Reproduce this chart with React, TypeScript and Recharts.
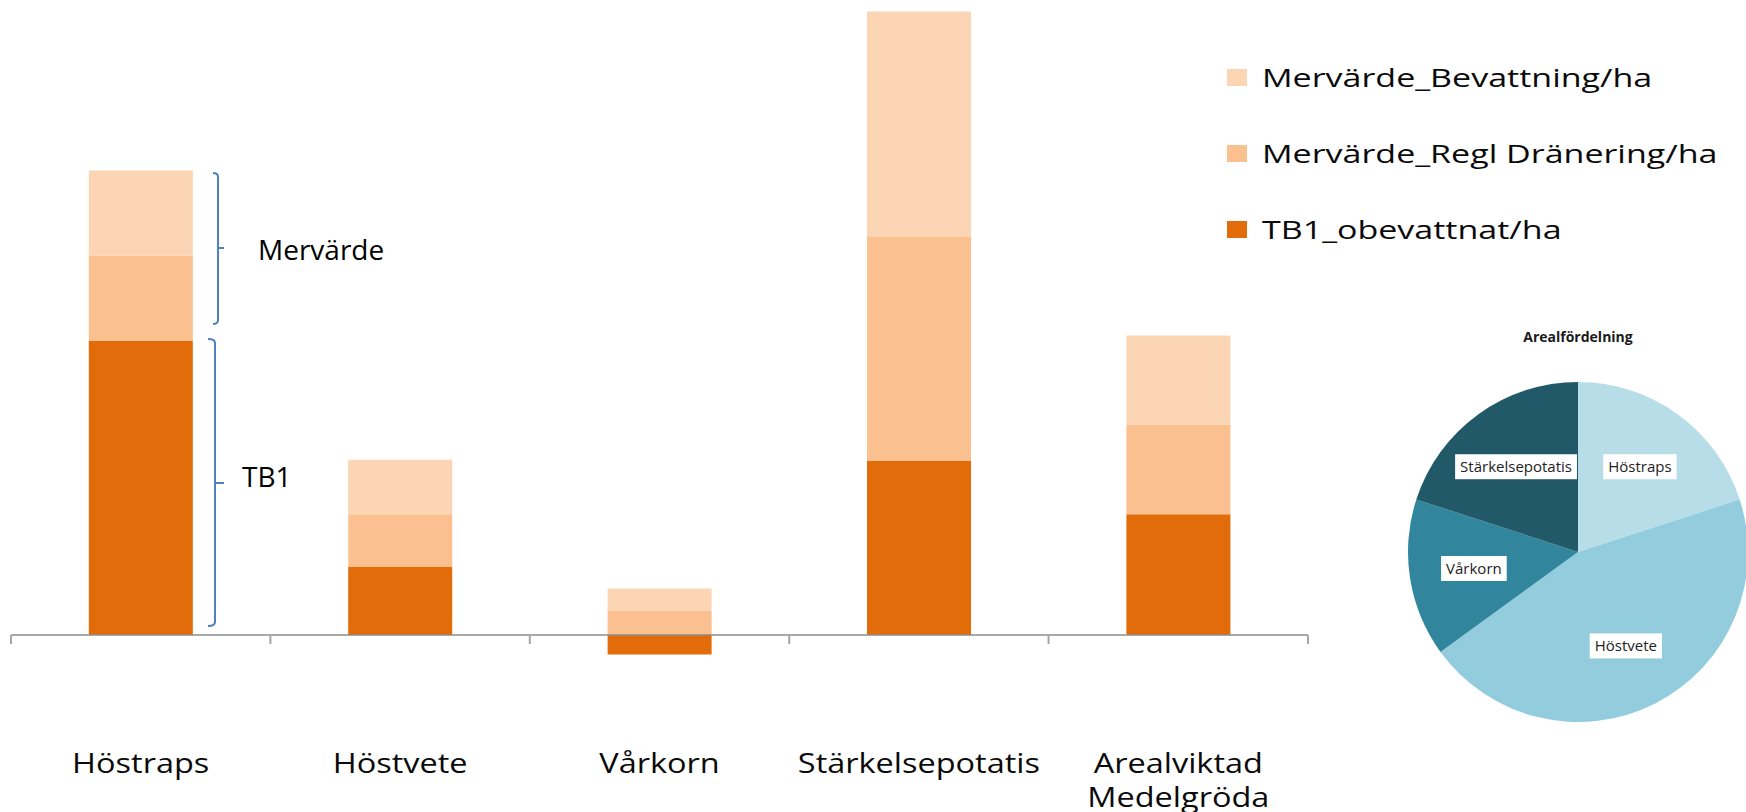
import React from 'react';
import { BarChart, Bar, XAxis, YAxis, ReferenceLine, Legend, PieChart, Pie, Cell } from 'recharts';

// Crops on the category axis (second line for the weighted average)
const crops = ['Höstraps', 'Höstvete', 'Vårkorn', 'Stärkelsepotatis', 'Arealviktad\nMedelgröda'];

// kr/ha
const tb1Obevattnat = [7350, 1700, -490, 4350, 3020];
const mervardeDranering = [2130, 1320, 600, 5620, 2240];
const mervardeBevattning = [2130, 1360, 560, 5620, 2230];

// Area distribution (%), clockwise from 12 o'clock
const areaCrops = ['Höstraps', 'Höstvete', 'Vårkorn', 'Stärkelsepotatis'];
const areaShare = [20, 45, 15, 20];

// legend lists the top of the stack first
const legendOrder = ['Mervärde_Bevattning/ha', 'Mervärde_Regl Dränering/ha', 'TB1_obevattnat/ha'];

const palette = {
  tb1: '#e36c0a',
  dranering: '#fac090',
  bevattning: '#fcd5b5',
  axis: '#8c8c8c',
  tick: '#a6a6a6',
  brace: '#4f81bd',
  text: '#0a0a0a',
  pie: ['#b7dee8', '#93cddd', '#31859c', '#215968'],
};

const FONT = '"Open Sans", "Liberation Sans", sans-serif';

const barData = crops.map((crop, i) => ({
  crop,
  tb1: tb1Obevattnat[i],
  dranering: mervardeDranering[i],
  bevattning: mervardeBevattning[i],
}));

const pieData = areaCrops.map((name, i) => ({ name, value: areaShare[i] }));

// x labels are stretched sideways in the original
const CropTick = ({ x, y, payload }: any) => {
  const lines = String(payload.value).split('\n');
  return (
    <g transform={`translate(${x},${y})`}>
      <text transform="scale(1.16,1)" textAnchor="middle" fontFamily={FONT} fontSize={28} fill={palette.text}>
        {lines.map((line, i) => (
          <tspan key={line} x={0} y={73 + i * 34}>
            {line}
          </tspan>
        ))}
      </text>
    </g>
  );
};

const LegendBox = ({ payload }: any) => {
  const items = [...(payload || [])].sort(
    (a: any, b: any) => legendOrder.indexOf(a.value) - legendOrder.indexOf(b.value)
  );
  return (
    <div>
      {items.map((item: any) => (
        <div key={item.value} style={{ display: 'flex', alignItems: 'center', height: 76 }}>
          <span style={{ width: 20, height: 17, background: item.color, marginRight: 15, flex: 'none' }} />
          <span
            style={{
              fontFamily: FONT,
              fontSize: 25,
              color: palette.text,
              whiteSpace: 'nowrap',
              display: 'inline-block',
              transform: 'scaleX(1.36)',
              transformOrigin: 'left center',
            }}
          >
            {item.value}
          </span>
        </div>
      ))}
    </div>
  );
};

let measureCtx: CanvasRenderingContext2D | null = null;
function textWidth(s: string, font: string) {
  if (!measureCtx) measureCtx = document.createElement('canvas').getContext('2d');
  if (!measureCtx) return s.length * 8;
  measureCtx.font = font;
  return measureCtx.measureText(s).width;
}

const RAD = Math.PI / 180;
const PieLabel = (props: any) => {
  const { cx, cy, midAngle, outerRadius } = props;
  const name = props.name ?? props.payload?.name;
  const r = outerRadius * 0.62;
  const x = cx + r * Math.cos(-midAngle * RAD);
  const y = cy + r * Math.sin(-midAngle * RAD);
  const w = textWidth(name, '15px "Open Sans"') + 10;
  return (
    <g>
      <rect x={x - w / 2} y={y - 12.5} width={w} height={25} fill="#ffffff" />
      <text x={x} y={y} dy={5.5} textAnchor="middle" fontFamily={FONT} fontSize={15} fill="#222">
        {name}
      </text>
    </g>
  );
};

export default function App() {
  return (
    <div
      style={{
        position: 'absolute',
        left: 0,
        top: 0,
        width: 1746,
        height: 812,
        overflow: 'hidden',
        background: '#ffffff',
        fontFamily: FONT,
      }}
    >
      <BarChart
        width={1746}
        height={812}
        data={barData}
        stackOffset="sign"
        barCategoryGap="30%"
        margin={{ top: 11, right: 438, bottom: 0, left: 11 }}
      >
        <XAxis
          dataKey="crop"
          axisLine={false}
          tickLine={false}
          tickSize={0}
          tickMargin={0}
          height={112}
          interval={0}
          tick={<CropTick />}
        />
        <YAxis hide width={0} domain={[-1625, 15600]} allowDataOverflow />
        <Legend
          layout="vertical"
          align="center"
          verticalAlign="middle"
          content={<LegendBox />}
          wrapperStyle={{ left: 1227, top: 39, width: 500 }}
        />
        <Bar dataKey="tb1" name="TB1_obevattnat/ha" stackId="a" fill={palette.tb1} isAnimationActive={false} />
        <Bar dataKey="dranering" name="Mervärde_Regl Dränering/ha" stackId="a" fill={palette.dranering} isAnimationActive={false} />
        <Bar dataKey="bevattning" name="Mervärde_Bevattning/ha" stackId="a" fill={palette.bevattning} isAnimationActive={false} />
        <ReferenceLine y={0} stroke={palette.axis} strokeWidth={1.5} />
        {crops.map((c) => (
          <ReferenceLine
            key={c}
            segment={[{ x: c, y: 0 }, { x: c, y: -225 }]}
            position="start"
            stroke={palette.tick}
            strokeWidth={2}
          />
        ))}
        <ReferenceLine
          segment={[{ x: crops[crops.length - 1], y: 0 }, { x: crops[crops.length - 1], y: -225 }]}
          position="end"
          stroke={palette.tick}
          strokeWidth={2}
        />
      </BarChart>

      <div style={{ position: 'absolute', left: 1390, top: 300 }}>
        <PieChart width={376} height={512} margin={{ top: 0, right: 0, bottom: 0, left: 0 }}>
          <Pie
            data={pieData}
            dataKey="value"
            nameKey="name"
            cx={188}
            cy={252}
            outerRadius={170}
            startAngle={90}
            endAngle={-270}
            stroke="none"
            label={PieLabel}
            labelLine={false}
            isAnimationActive={false}
          >
            {pieData.map((d, i) => (
              <Cell key={d.name} fill={palette.pie[i]} />
            ))}
          </Pie>
        </PieChart>
      </div>

      {/* hand-drawn annotations from the slide */}
      <svg width={1746} height={812} style={{ position: 'absolute', left: 0, top: 0, pointerEvents: 'none' }}>
        <g fill="none" stroke={palette.brace} strokeWidth={2}>
          <path d="M213,173 Q218,173 218,177 L218,320 Q218,324 213,324" />
          <path d="M218,248 L224,248" />
          <path d="M208,339 Q215,339 215,343 L215,622 Q215,626 208,626" />
          <path d="M215,483 L224,483" />
        </g>
        <text x={258} y={260} fontFamily={FONT} fontSize={28} fill="#000">
          Mervärde
        </text>
        <text x={242} y={487} fontFamily={FONT} fontSize={28} fill="#000">
          TB1
        </text>
        <text x={1578} y={342} textAnchor="middle" fontFamily={FONT} fontSize={14} fontWeight="bold" fill="#1a1a1a">
          Arealfördelning
        </text>
      </svg>
    </div>
  );
}
